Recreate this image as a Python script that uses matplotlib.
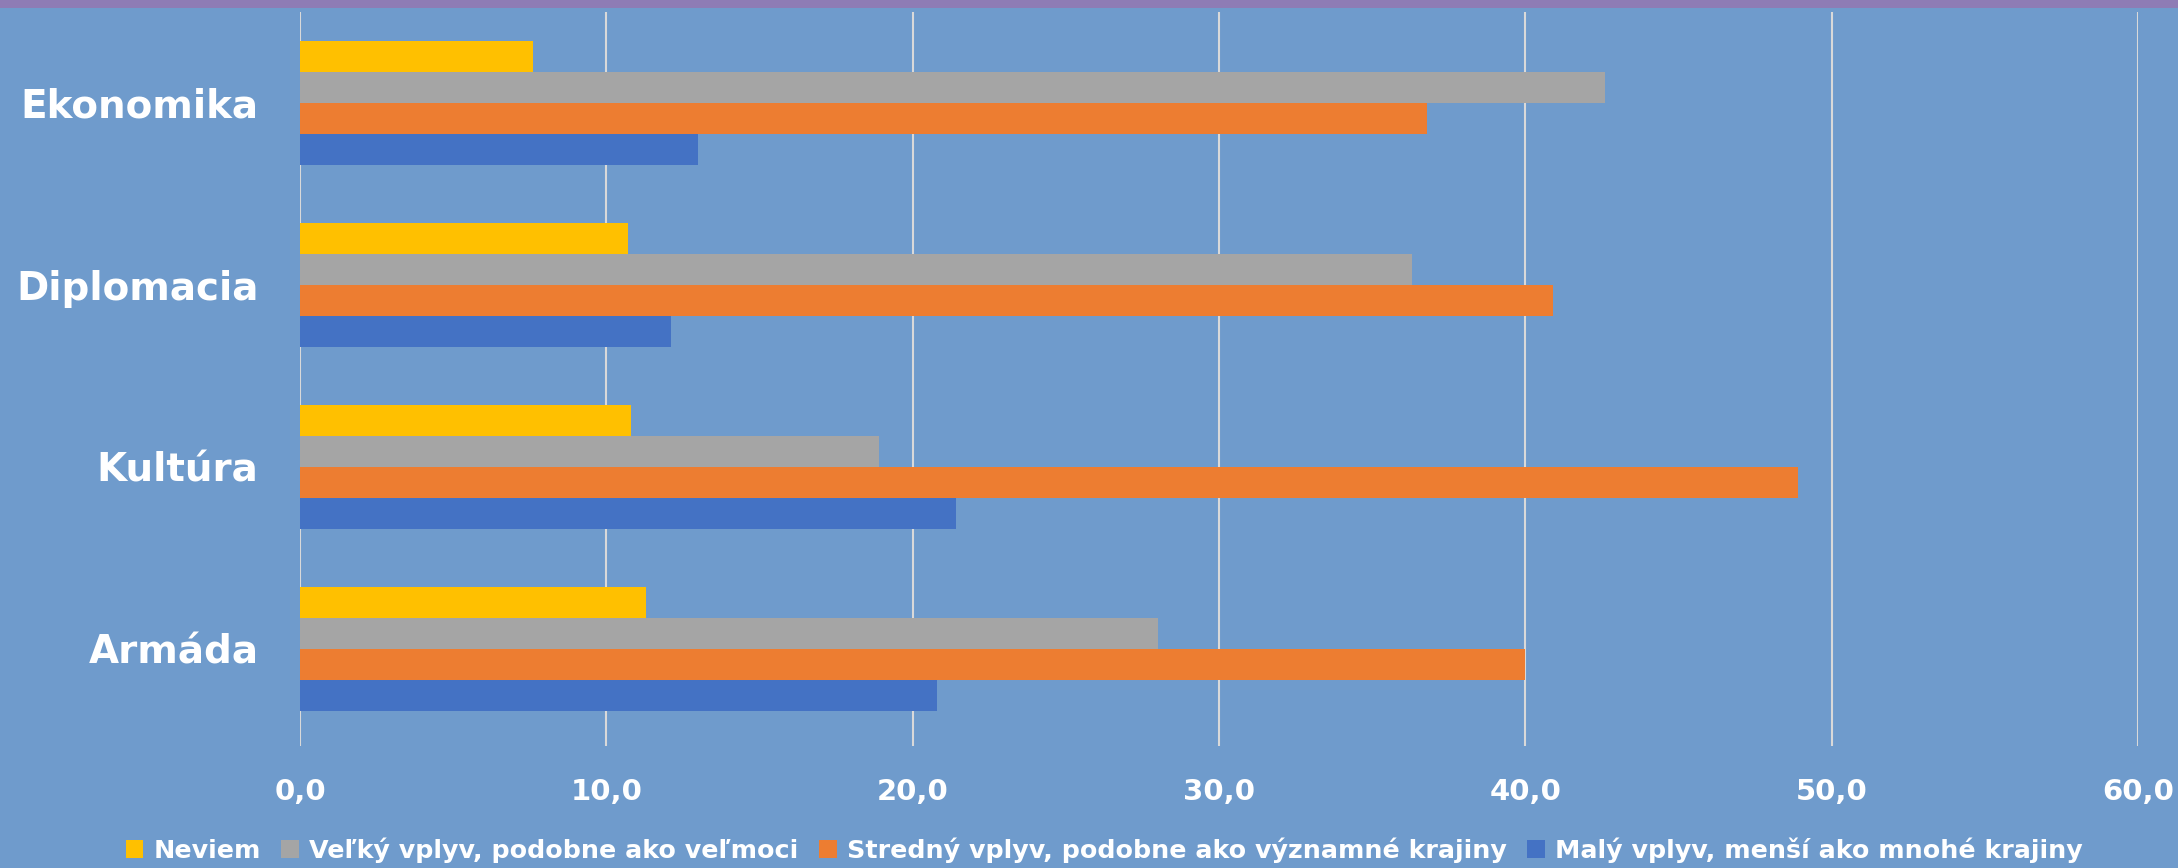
import matplotlib
matplotlib.use("Agg")
import matplotlib.pyplot as plt
import numpy as np
from matplotlib.patches import Patch, Rectangle

plt.rcParams['font.family'] = ['DejaVu Sans']

categories = ["Ekonomika", "Diplomacia", "Kultúra", "Armáda"]
series_names = ["Neviem",
                "Veľký vplyv, podobne ako veľmoci",
                "Stredný vplyv, podobne ako významné krajiny",
                "Malý vplyv, menší ako mnohé krajiny"]
neviem  = [7.6, 10.7, 10.8, 11.3]
velky   = [42.6, 36.3, 18.9, 28.0]
stredny = [36.8, 40.9, 48.9, 40.0]
maly    = [13.0, 12.1, 21.4, 20.8]
xticks = [0, 10, 20, 30, 40, 50, 60]
xtick_labels = ["0,0", "10,0", "20,0", "30,0", "40,0", "50,0", "60,0"]

colors = ["#FFC000", "#A5A5A5", "#ED7D31", "#4472C4"]
bg = "#6F9BCC"

fig = plt.figure(figsize=(21.78, 8.68), dpi=100)
fig.patch.set_facecolor(bg)
# purple top strip
fig.patches.append(Rectangle((0, 1 - 8/868), 1, 8/868, transform=fig.transFigure,
                             facecolor="#8E7CB5", edgecolor="none", zorder=5))

ax = fig.add_axes([300/2178, 1 - 746/868, (2138-300)/2178, (746-12)/868])
ax.set_facecolor(bg)

n = len(categories)
ypos = np.arange(n)[::-1]  # Ekonomika at top
h = 0.17
offsets = [1.5*h, 0.5*h, -0.5*h, -1.5*h]
for vals, off, c in zip([neviem, velky, stredny, maly], offsets, colors):
    ax.barh(ypos + off, vals, height=h, color=c, edgecolor="none", zorder=3)

ax.set_xlim(0, 60)
ax.set_ylim(-0.533, n - 0.5)
ax.set_xticks(xticks)
ax.set_xticklabels(xtick_labels)
ax.set_yticks(ypos)
ax.set_yticklabels(categories)
ax.grid(axis='x', color="#D9D9D9", linewidth=1.5, zorder=1)
ax.grid(axis='y', visible=False)
for s in ax.spines.values():
    s.set_visible(False)
ax.tick_params(axis='x', length=0, pad=23, labelsize=21, labelcolor='white')
ax.tick_params(axis='y', length=0, pad=30, labelsize=28, labelcolor='white')
for lbl in ax.get_xticklabels() + ax.get_yticklabels():
    lbl.set_fontweight('bold')

handles = [Patch(facecolor=c, edgecolor='none') for c in colors]
leg = fig.legend(handles, series_names, loc='center', bbox_to_anchor=(0.507, 0.021),
                 ncol=4, frameon=False, handlelength=0.7, handleheight=0.7,
                 handletextpad=0.4, columnspacing=0.8,
                 prop={'weight': 'bold', 'size': 18.3})
for t in leg.get_texts():
    t.set_color('white')

fig.savefig("out.png", dpi=100, facecolor=bg)
